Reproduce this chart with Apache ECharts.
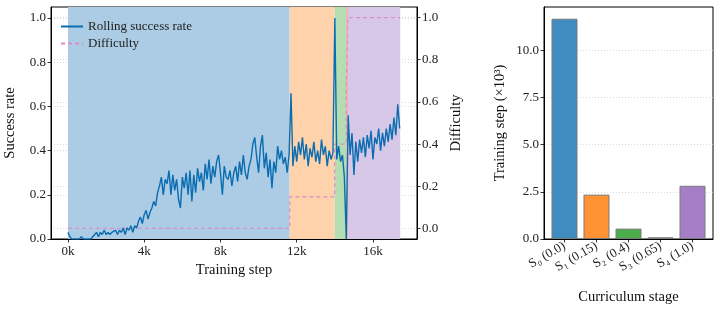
<!DOCTYPE html>
<html>
<head>
<meta charset="utf-8">
<script src="https://cdn.jsdelivr.net/npm/echarts@6/dist/echarts.min.js"></script>
<style>
  html, body { margin: 0; padding: 0; background: #fff; }
  #main { width: 722px; height: 311px; }
</style>
</head>
<body>
<div id="main"></div>
<script>
// rolling success rate, one value per 100 training steps (0 .. 17400)
var stepSize = 100
var successRate = [
  0.03, 0.01, 0, 0, 0, 0, 0, 0.01, 0, 0,
  0, 0, 0, 0.01, 0.02, 0.03, 0.01, 0.03, 0.02, 0.04,
  0.02, 0.03, 0.02, 0.03, 0.03, 0.04, 0.02, 0.04, 0.03, 0.05,
  0.02, 0.05, 0.04, 0.06, 0.03, 0.06, 0.05, 0.08, 0.1, 0.07,
  0.11, 0.13, 0.09, 0.12, 0.14, 0.17, 0.15, 0.21, 0.24, 0.28,
  0.2, 0.27, 0.25, 0.31, 0.2, 0.29, 0.22, 0.27, 0.18, 0.14,
  0.28, 0.23, 0.3, 0.2, 0.31, 0.17, 0.29, 0.21, 0.32, 0.26,
  0.3, 0.22, 0.34, 0.27, 0.36, 0.25, 0.33, 0.28, 0.35, 0.38,
  0.3, 0.2, 0.33, 0.28, 0.27, 0.31, 0.24, 0.3, 0.33, 0.26,
  0.35, 0.29, 0.38, 0.3, 0.27, 0.33, 0.36, 0.43, 0.46, 0.37,
  0.3, 0.42, 0.47, 0.32, 0.39, 0.28, 0.36, 0.23, 0.35, 0.3,
  0.42, 0.36, 0.4, 0.34, 0.37, 0.3, 0.38, 0.66, 0.33, 0.42,
  0.35, 0.44, 0.38, 0.46, 0.36, 0.43, 0.33, 0.41, 0.37, 0.44,
  0.35, 0.4, 0.34, 0.45, 0.38, 0.42, 0.33, 0.4, 0.36, 0.39,
  1.0, 0.36, 0.42, 0.35, 0.38, 0.28, 0.0, 0.56, 0.38, 0.48,
  0.29, 0.44, 0.35, 0.45, 0.39, 0.46, 0.37, 0.47, 0.41, 0.49,
  0.36, 0.46, 0.43, 0.5, 0.4, 0.48, 0.42, 0.5, 0.44, 0.52,
  0.45, 0.55, 0.47, 0.61, 0.5
]

// curriculum stages
var stageNames = ['S₀ (0.0)', 'S₁ (0.15)', 'S₂ (0.4)', 'S₃ (0.65)', 'S₄ (1.0)']
var stageDifficulty = [0, 0.15, 0.4, 0.65, 1.0]
var stageBounds = [0, 11630, 13990, 14590, 14690, 17430]
var stageSteps = [11.67, 2.35, 0.55, 0.09, 2.82] // x10^3
var stageShade = ['#abcce4', '#fed2ab', '#b5ddb2', '#f0b1b1', '#d8c8e7']
var stageBar = ['#408bbf', '#ff9232', '#4bae4b', '#dc4748', '#a47ec7']

var xTicks = [0, 4000, 8000, 12000, 16000]
var rateTicks = [0, 0.2, 0.4, 0.6, 0.8, 1.0]
var barTicks = [0, 2.5, 5, 7.5, 10]

var font = 'Liberation Serif'

var chart = echarts.init(document.getElementById('main'))

var rateData = successRate.map(function (v, i) { return [i * stepSize, v] })

var diffData = []
for (var i = 0; i < stageDifficulty.length; i++) {
  diffData.push([stageBounds[i], stageDifficulty[i]])
  diffData.push([stageBounds[i + 1], stageDifficulty[i]])
}

var shadeAreas = stageDifficulty.map(function (d, i) {
  return [
    { xAxis: stageBounds[i], itemStyle: { color: stageShade[i] } },
    { xAxis: stageBounds[i + 1] }
  ]
})

var barData = stageSteps.map(function (v, i) {
  return { value: [i, v], itemStyle: { color: stageBar[i] } }
})

var tickStyle = { show: true, inside: false, length: 3.5, lineStyle: { color: '#000', width: 0.8 } }
var gridLine = { show: true, lineStyle: { color: '#cccccc', type: [1, 2], width: 0.7 } }
var labelStyle = { fontFamily: font, fontSize: 13, color: '#222' }
var nameStyle = { fontFamily: font, fontSize: 14.5, color: '#111' }
var spine = { show: true, onZero: false, lineStyle: { color: '#000' } }

var option = {
  animation: false,
  textStyle: { fontFamily: font },
  grid: [
    { left: 51, top: 7, right: 305, bottom: 72, outerBoundsMode: 'none', containLabel: false,
      show: true, borderColor: '#000', borderWidth: 1, backgroundColor: '#fff' },
    { left: 544, top: 7, right: 9, bottom: 72, outerBoundsMode: 'none', containLabel: false,
      show: true, borderColor: '#000', borderWidth: 1, backgroundColor: '#fff' }
  ],
  legend: {
    orient: 'vertical',
    left: 55,
    top: 15,
    itemWidth: 22,
    itemHeight: 10,
    itemGap: 4,
    itemStyle: { opacity: 0 },
    textStyle: { fontFamily: font, fontSize: 13, color: '#222' },
    data: ['Rolling success rate', 'Difficulty']
  },
  xAxis: [
    {
      gridIndex: 0,
      type: 'value',
      min: -890,
      max: 18310,
      name: 'Training step',
      nameLocation: 'middle',
      nameGap: 23,
      nameTextStyle: nameStyle,
      axisLine: spine,
      axisTick: Object.assign({ customValues: xTicks }, tickStyle),
      axisLabel: Object.assign({
        customValues: xTicks,
        margin: 6,
        formatter: function (v) { return (v / 1000) + 'k' }
      }, labelStyle),
      splitLine: gridLine
    },
    {
      gridIndex: 1,
      type: 'value',
      min: -0.64,
      max: 4.64,
      name: 'Curriculum stage',
      nameLocation: 'middle',
      nameGap: 51,
      nameTextStyle: nameStyle,
      axisLine: spine,
      axisTick: Object.assign({ customValues: [0, 1, 2, 3, 4] }, tickStyle),
      axisLabel: Object.assign({
        customValues: [0, 1, 2, 3, 4],
        rotate: 30,
        margin: 6,
        formatter: function (v) { return stageNames[Math.round(v)] }
      }, labelStyle),
      splitLine: { show: false }
    }
  ],
  yAxis: [
    {
      gridIndex: 0,
      type: 'value',
      min: 0,
      max: 1.05,
      name: 'Success rate',
      nameLocation: 'middle',
      nameGap: 33,
      nameTextStyle: nameStyle,
      axisLine: spine,
      axisTick: Object.assign({ customValues: rateTicks }, tickStyle),
      axisLabel: Object.assign({
        customValues: rateTicks,
        margin: 5,
        formatter: function (v) { return v.toFixed(1) }
      }, labelStyle),
      splitLine: gridLine
    },
    {
      gridIndex: 0,
      type: 'value',
      position: 'right',
      min: -0.05,
      max: 1.05,
      name: 'Difficulty',
      nameLocation: 'middle',
      nameRotate: 90,
      nameGap: 30,
      nameTextStyle: nameStyle,
      axisLine: spine,
      axisTick: Object.assign({ customValues: rateTicks }, tickStyle),
      axisLabel: Object.assign({
        customValues: rateTicks,
        margin: 5,
        formatter: function (v) { return v.toFixed(1) }
      }, labelStyle),
      splitLine: gridLine
    },
    {
      gridIndex: 1,
      type: 'value',
      min: 0,
      max: 12.29,
      name: 'Training step (×10³)',
      nameLocation: 'middle',
      nameGap: 36,
      nameTextStyle: nameStyle,
      axisLine: spine,
      axisTick: Object.assign({ customValues: barTicks }, tickStyle),
      axisLabel: Object.assign({
        customValues: barTicks,
        margin: 5,
        formatter: function (v) { return v.toFixed(1) }
      }, labelStyle),
      splitLine: gridLine
    }
  ],
  series: [
    {
      name: 'stages',
      type: 'line',
      xAxisIndex: 0,
      yAxisIndex: 0,
      data: [],
      z: 1,
      silent: true,
      markArea: { silent: true, data: shadeAreas }
    },
    {
      name: 'Rolling success rate',
      type: 'line',
      xAxisIndex: 0,
      yAxisIndex: 0,
      data: rateData,
      symbol: 'none',
      z: 3,
      lineStyle: { color: '#0a6db1', width: 1.4 },
      itemStyle: { color: '#0a6db1' }
    },
    {
      name: 'Difficulty',
      type: 'line',
      xAxisIndex: 0,
      yAxisIndex: 1,
      data: diffData,
      symbol: 'none',
      z: 2,
      lineStyle: { color: '#dc8ec8', width: 1.2, type: [4, 3] },
      itemStyle: { color: '#dc8ec8' }
    },
    {
      name: 'steps',
      type: 'bar',
      xAxisIndex: 1,
      yAxisIndex: 2,
      barWidth: 26,
      data: barData,
      itemStyle: { borderColor: '#7a7a7a', borderWidth: 1 }
    }
  ]
}

chart.setOption(option)
</script>
</body>
</html>
